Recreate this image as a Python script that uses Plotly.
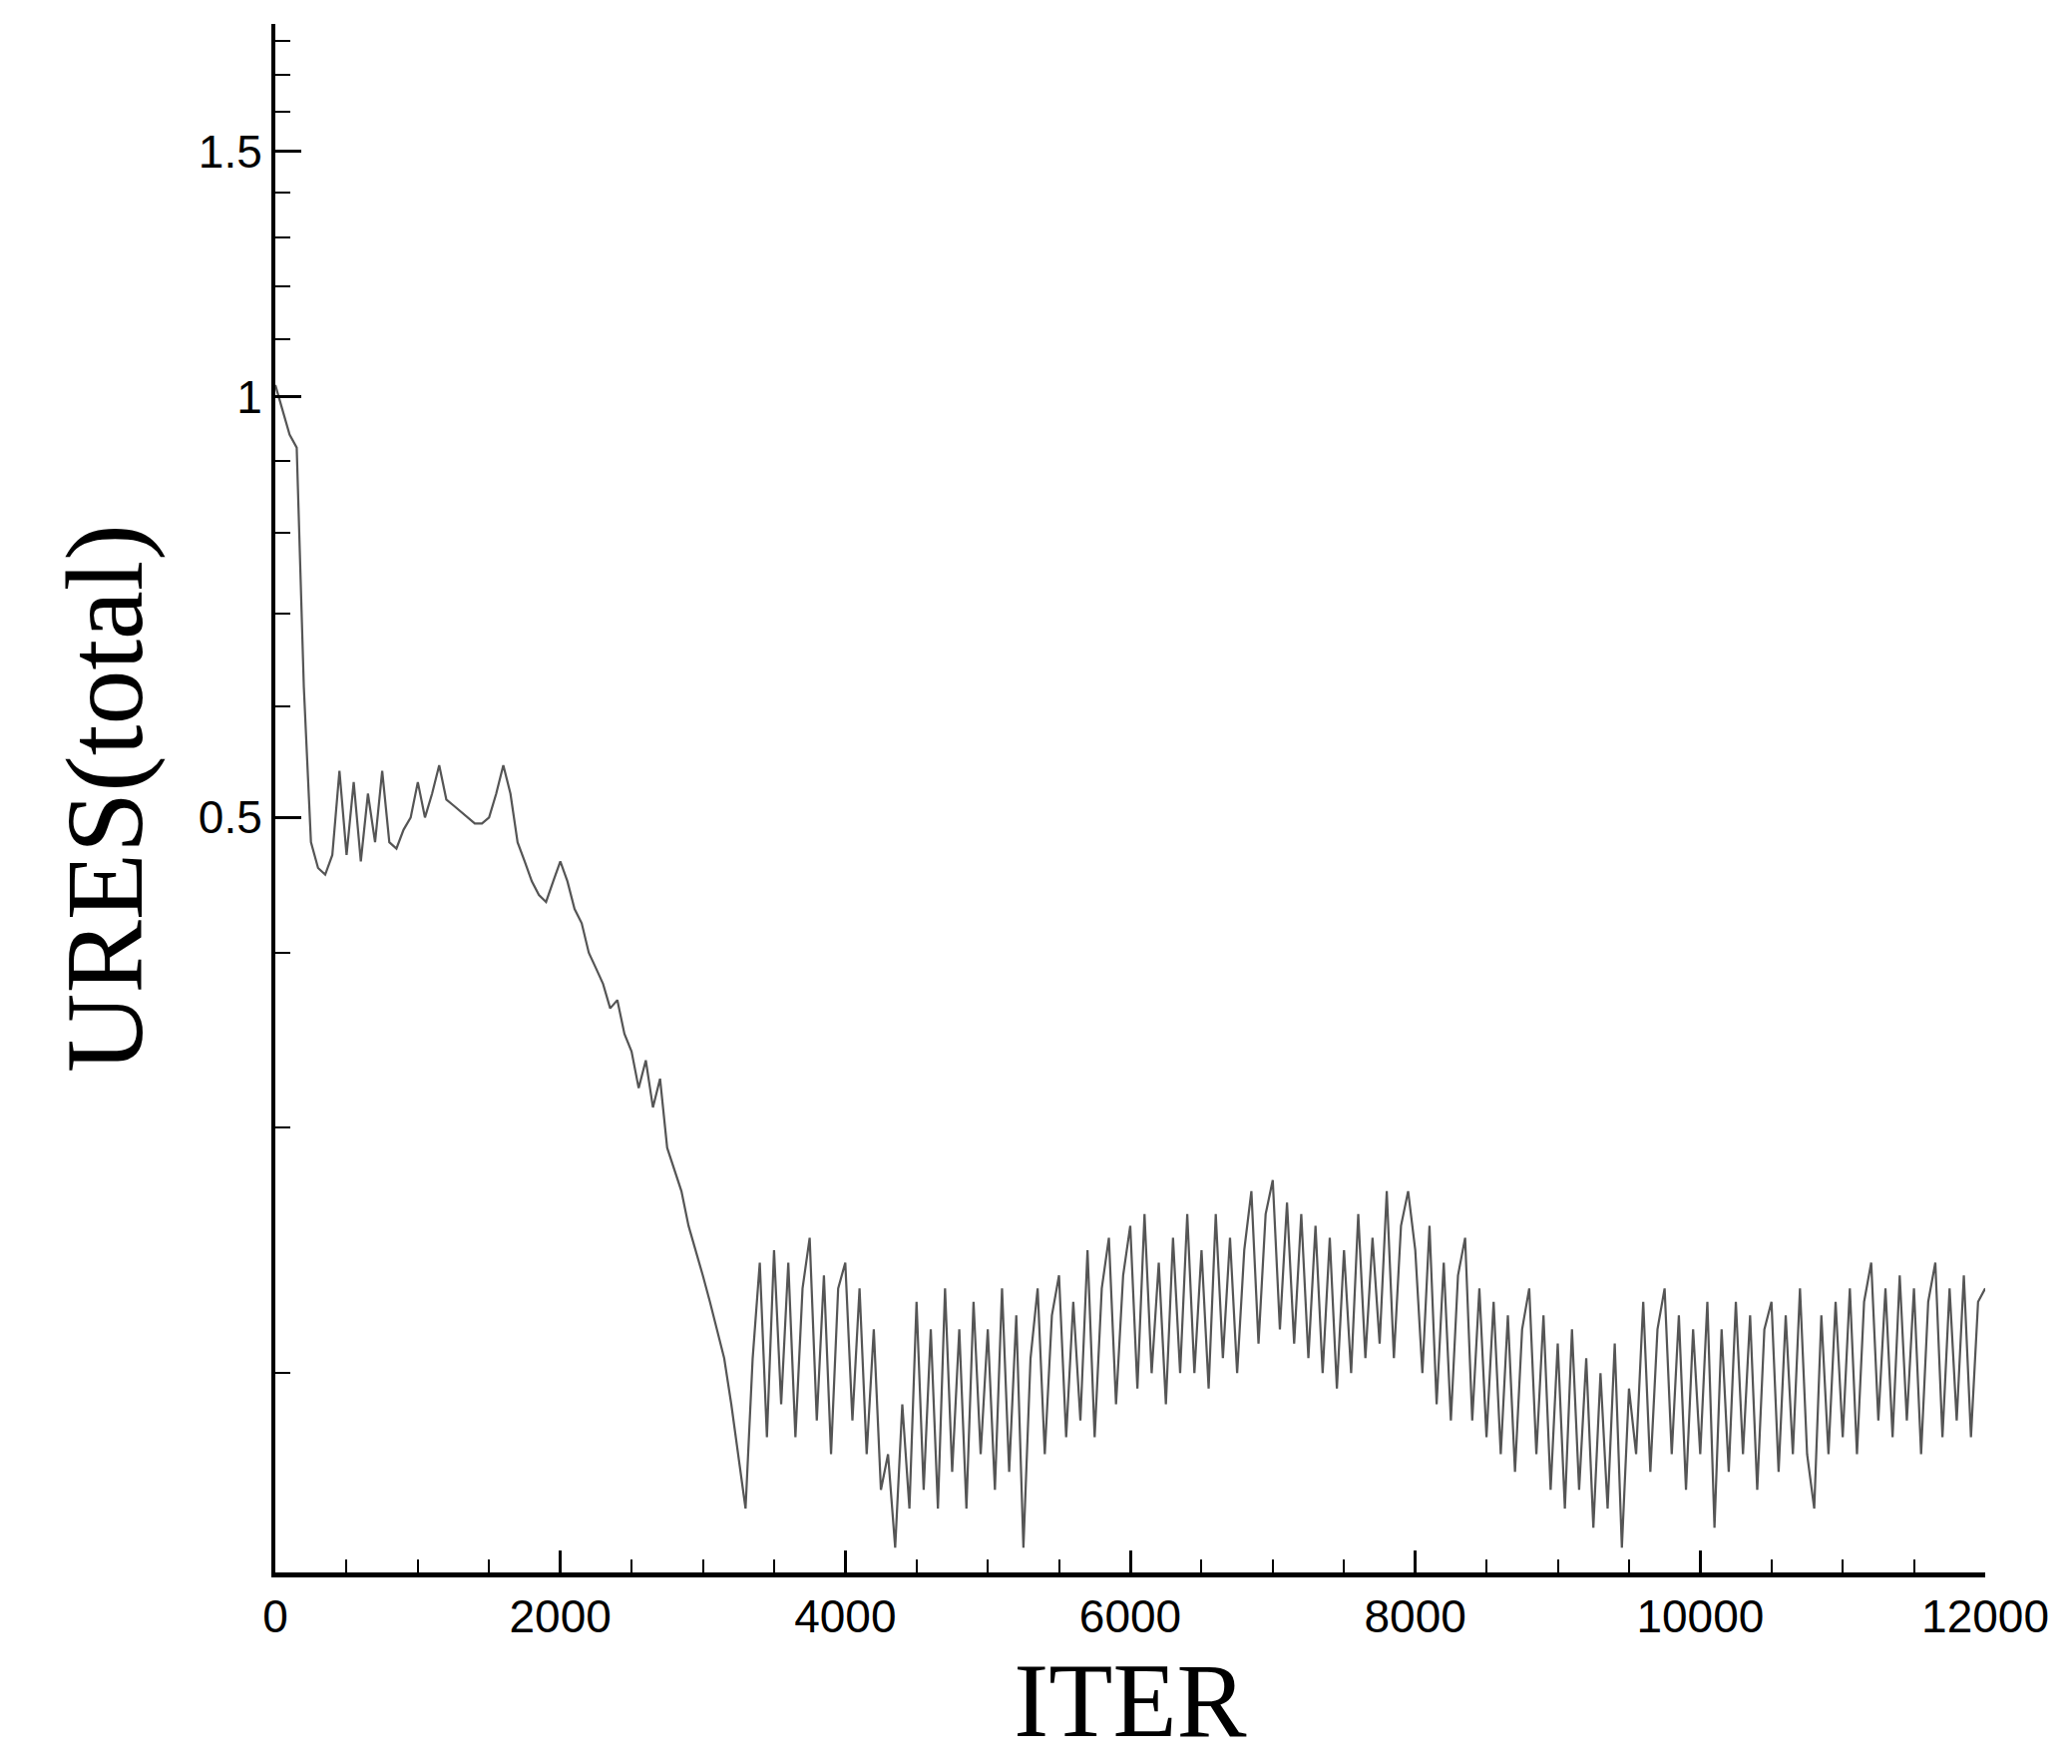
import numpy as np
import plotly.graph_objects as go

# iterations, step 50
iters = list(range(0, 12001, 50))

ures = [
    # 0 - 950
    1.02, 0.98, 0.94, 0.92, 0.62, 0.48, 0.46, 0.455, 0.47, 0.54,
    0.47, 0.53, 0.465, 0.52, 0.48, 0.54, 0.48, 0.475, 0.49, 0.50,
    # 1000 - 1950
    0.53, 0.50, 0.52, 0.545, 0.515, 0.51, 0.505, 0.50, 0.495, 0.495,
    0.50, 0.52, 0.545, 0.52, 0.48, 0.465, 0.45, 0.44, 0.435, 0.45,
    # 2000 - 2950
    0.465, 0.45, 0.43, 0.42, 0.40, 0.39, 0.38, 0.365, 0.37, 0.35,
    0.34, 0.32, 0.335, 0.31, 0.325, 0.29, 0.28, 0.27, 0.255, 0.245,
    # 3000 - 3950
    0.235, 0.225, 0.215, 0.205, 0.19, 0.175, 0.16, 0.205, 0.24, 0.18,
    0.245, 0.19, 0.24, 0.18, 0.23, 0.25, 0.185, 0.235, 0.175, 0.23,
    # 4000 - 4950
    0.24, 0.185, 0.23, 0.175, 0.215, 0.165, 0.175, 0.15, 0.19, 0.16,
    0.225, 0.165, 0.215, 0.16, 0.23, 0.17, 0.215, 0.16, 0.225, 0.175,
    # 5000 - 5950
    0.215, 0.165, 0.23, 0.17, 0.22, 0.15, 0.205, 0.23, 0.175, 0.22,
    0.235, 0.18, 0.225, 0.185, 0.245, 0.18, 0.23, 0.25, 0.19, 0.235,
    # 6000 - 6950
    0.255, 0.195, 0.26, 0.2, 0.24, 0.19, 0.25, 0.2, 0.26, 0.2,
    0.245, 0.195, 0.26, 0.205, 0.25, 0.2, 0.245, 0.27, 0.21, 0.26,
    # 7000 - 7950
    0.275, 0.215, 0.265, 0.21, 0.26, 0.205, 0.255, 0.2, 0.25, 0.195,
    0.245, 0.2, 0.26, 0.205, 0.25, 0.21, 0.27, 0.205, 0.255, 0.27,
    # 8000 - 8950
    0.245, 0.2, 0.255, 0.19, 0.24, 0.185, 0.235, 0.25, 0.185, 0.23,
    0.18, 0.225, 0.175, 0.22, 0.17, 0.215, 0.23, 0.175, 0.22, 0.165,
    # 9000 - 9950
    0.21, 0.16, 0.215, 0.165, 0.205, 0.155, 0.2, 0.16, 0.21, 0.15,
    0.195, 0.175, 0.225, 0.17, 0.215, 0.23, 0.175, 0.22, 0.165, 0.215,
    # 10000 - 10950
    0.175, 0.225, 0.155, 0.215, 0.17, 0.225, 0.175, 0.22, 0.165, 0.215,
    0.225, 0.17, 0.22, 0.175, 0.23, 0.175, 0.16, 0.22, 0.175, 0.225,
    # 11000 - 11950
    0.18, 0.23, 0.175, 0.225, 0.24, 0.185, 0.23, 0.18, 0.235, 0.185,
    0.23, 0.175, 0.225, 0.24, 0.18, 0.23, 0.185, 0.235, 0.18, 0.225,
    # 12000
    0.23,
]

y_major = [0.5, 1, 1.5]
y_major_labels = ["0.5", "1", "1.5"]
y_minor = [0.2, 0.3, 0.4, 0.6, 0.7, 0.8, 0.9, 1.1, 1.2, 1.3, 1.4, 1.6, 1.7, 1.8]
x_major = list(range(0, 12001, 2000))
x_labels = [str(v) for v in x_major]

fig = go.Figure()
fig.add_trace(go.Scatter(x=iters, y=ures, mode="lines",
                         line=dict(color="#555555", width=2.2), showlegend=False))

fig.update_layout(
    width=2077, height=1768,
    paper_bgcolor="white", plot_bgcolor="white",
    margin=dict(l=268, r=95, t=16, b=200),
    font=dict(family="Liberation Sans", color="black"),
)
fig.update_xaxes(
    range=[0, 12000], tickvals=x_major, ticktext=x_labels,
    ticks="inside", ticklen=22, tickwidth=3, tickcolor="black",
    minor=dict(dtick=500, ticks="inside", ticklen=13, tickwidth=2, tickcolor="black"),
    showline=True, linewidth=5, linecolor="black", showgrid=False, zeroline=False,
    tickfont=dict(size=46),
    title=dict(text="ITER", font=dict(family="Liberation Serif", size=105), standoff=0),
)
fig.update_yaxes(
    type="log", range=[np.log10(0.144), np.log10(1.85)],
    tickvals=y_major, ticktext=y_major_labels,
    ticks="inside", ticklen=26, tickwidth=3, tickcolor="black",
    minor=dict(tickvals=y_minor, ticks="inside", ticklen=15, tickwidth=2, tickcolor="black"),
    showline=True, linewidth=4, linecolor="black", showgrid=False, zeroline=False,
    tickfont=dict(size=46),
    title=dict(text="URES(total)", font=dict(family="Liberation Serif", size=110), standoff=20),
)

fig.write_html("out.html")
